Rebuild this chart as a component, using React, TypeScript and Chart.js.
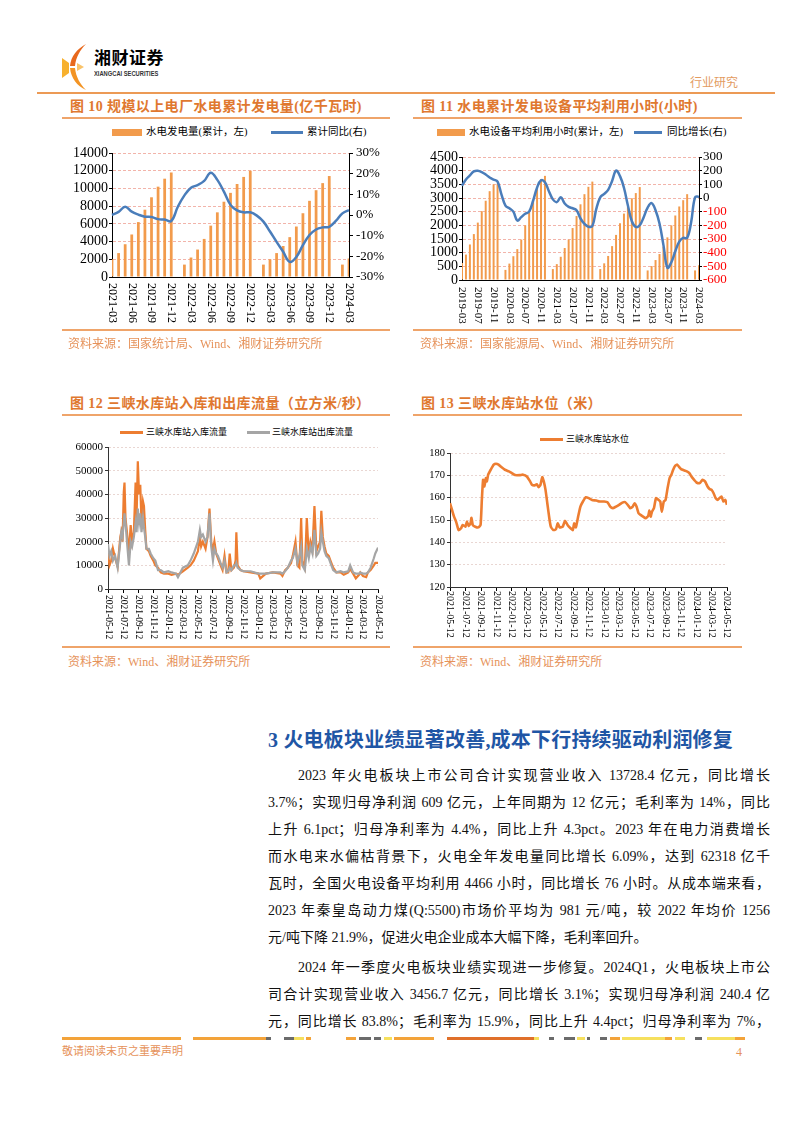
import React, { useEffect, useRef } from 'react';
import { Chart, registerables } from 'chart.js';
Chart.register(...registerables);

// ---------------- Figure 10 data ----------------
function monthRange(start: string, end: string): string[] {
  const [sy, sm] = start.split('-').map(Number);
  const [ey, em] = end.split('-').map(Number);
  const out: string[] = [];
  let y = sy, m = sm;
  while (y < ey || (y === ey && m <= em)) {
    out.push(`${y}-${String(m).padStart(2, '0')}`);
    m++;
    if (m > 12) { m = 1; y++; }
  }
  return out;
}

const c10Months = monthRange('2021-03', '2024-03');
const c10TickLabels = ['2021-03', '2021-06', '2021-09', '2021-12', '2022-03', '2022-06', '2022-09', '2022-12', '2023-03', '2023-06', '2023-09', '2023-12', '2024-03'];
const c10Output = [2000, 2700, 3700, 4800, 6200, 7600, 9000, 10200, 11100, 11800,
  null, 1400, 2200, 3100, 4300, 5800, 7300, 8500, 9500, 10500, 11300, 12000,
  null, 1400, 2000, 2700, 3500, 4500, 5700, 7200, 8600, 9800, 10600, 11400,
  null, 1400, 2100];
const c10Yoy = [0, 1.5, 4, 1.6, 0.2, -0.8, -1, -2, -2.2, -2.9,
  4, 9.5, 13.2, 14.5, 16.5, 20.5, 17, 11.3, 4.9, 2.2, 1.3, 1.3,
  -0.3, -3.2, -8, -13, -17.8, -22.7, -20.3, -14.6, -9.7, -7, -6, -5.7,
  -2.9, 0.8, 2.4];

// ---------------- Figure 11 data ----------------
const c11Months = monthRange('2019-03', '2024-03');
const c11TickLabels = ['2019-03', '2019-07', '2019-11', '2020-03', '2020-07', '2020-11', '2021-03', '2021-07', '2021-11', '2022-03', '2022-07', '2022-11', '2023-03', '2023-07', '2023-11', '2024-03'];
const c11Hours = [620, 930, 1300, 1680, 2100, 2520, 2900, 3250, 3500, 3520,
  null, 370, 600, 870, 1130, 1480, 2000, 2470, 2920, 3320, 3690, 3810,
  null, 400, 580, 850, 1170, 1480, 1900, 2340, 2770, 3140, 3410, 3600,
  null, 400, 610, 880, 1240, 1650, 2080, 2430, 2680, 2990, 3180, 3400,
  null, 350, 510, 730, 950, 1220, 1560, 2000, 2360, 2690, 2920, 3140,
  null, 350, 540];
const c11Yoy = [90, 135, 165, 195, 200, 190, 172, 150, 135, 120,
  25, -55, -75, -100, -165, -140, -115, -100, -20, 75, 130, 115,
  50, -10, -30, 5, -40, -65, -75, -90, -150, -190, -210, -205,
  -80, 5, 30, 60, 125, 200, 160, 75, -55, -170, -212, -200,
  -140, -70, -37, -90, -187, -345, -510, -470, -390, -320, -292, -292,
  -180, 5, 10];

// ---------------- Figure 12 data ----------------
const flowTickLabels = ['2021-05-12', '2021-07-12', '2021-09-12', '2021-11-12', '2022-01-12', '2022-03-12', '2022-05-12', '2022-07-12', '2022-09-12', '2022-11-12', '2023-01-12', '2023-03-12', '2023-05-12', '2023-07-12', '2023-09-12', '2023-11-12', '2024-01-12', '2024-03-12', '2024-05-12'];
const flowDates = ['2021-05-12', '2021-05-18', '2021-05-25', '2021-06-01', '2021-06-10', '2021-06-20', '2021-07-01', '2021-07-05', '2021-07-10', '2021-07-15', '2021-07-18', '2021-07-22', '2021-07-28', '2021-08-05', '2021-08-12', '2021-08-18', '2021-08-25', '2021-09-01', '2021-09-05', '2021-09-10', '2021-09-15', '2021-09-20', '2021-09-25', '2021-10-01', '2021-10-05', '2021-10-10', '2021-10-15', '2021-10-25', '2021-11-01', '2021-11-12', '2021-11-20', '2021-12-01', '2021-12-12', '2021-12-25', '2022-01-12', '2022-01-25', '2022-02-12', '2022-02-20', '2022-03-12', '2022-04-01', '2022-04-12', '2022-04-25', '2022-05-12', '2022-05-20', '2022-05-25', '2022-06-01', '2022-06-12', '2022-06-20', '2022-06-28', '2022-07-05', '2022-07-12', '2022-07-18', '2022-07-25', '2022-08-01', '2022-08-12', '2022-08-20', '2022-08-28', '2022-09-05', '2022-09-12', '2022-09-18', '2022-09-25', '2022-10-05', '2022-10-12', '2022-10-15', '2022-10-20', '2022-11-01', '2022-11-12', '2022-12-12', '2023-01-12', '2023-01-20', '2023-02-12', '2023-03-12', '2023-04-12', '2023-04-20', '2023-05-01', '2023-05-12', '2023-05-25', '2023-06-01', '2023-06-12', '2023-06-20', '2023-06-28', '2023-07-05', '2023-07-10', '2023-07-20', '2023-07-28', '2023-08-05', '2023-08-12', '2023-08-20', '2023-08-28', '2023-09-05', '2023-09-12', '2023-09-20', '2023-09-25', '2023-10-01', '2023-10-08', '2023-10-15', '2023-10-25', '2023-11-01', '2023-11-12', '2023-11-25', '2023-12-12', '2023-12-25', '2024-01-12', '2024-01-20', '2024-02-01', '2024-02-12', '2024-02-25', '2024-03-01', '2024-03-12', '2024-03-25', '2024-04-01', '2024-04-12', '2024-04-25', '2024-05-01', '2024-05-12'];
const inflow = [15000, 10000, 12000, 17000, 13000, 9500, 22000, 24000, 20000, 41000, 45000, 30000, 24000, 15000, 27000, 20000, 24000, 45000, 30000, 54000, 40000, 44000, 28000, 37000, 35000, 25000, 17000, 16000, 14000, 12000, 10000, 9000, 7000, 6500, 6500, 6000, 6500, 6000, 7500, 9000, 10000, 12000, 16000, 22000, 18000, 20000, 17000, 22000, 34000, 20000, 16000, 20000, 15000, 13000, 10000, 8000, 14000, 7000, 7000, 15000, 8000, 9000, 12000, 24000, 10000, 8000, 7500, 7000, 6500, 4500, 6500, 7000, 6500, 5500, 8000, 9000, 11000, 14000, 20000, 10000, 9000, 30000, 12000, 9000, 30000, 14000, 20000, 17000, 35000, 16000, 18000, 20000, 33000, 22000, 18000, 15000, 14000, 12000, 9000, 7000, 7000, 6000, 7000, 8500, 6500, 4500, 6000, 7000, 5500, 5000, 7000, 8000, 10000, 11000, 11000];
const outflow = [19000, 14000, 16000, 12000, 14000, 9000, 20000, 24000, 22000, 28000, 32000, 28000, 20000, 10000, 20000, 18000, 22000, 28000, 24000, 34000, 28000, 32000, 24000, 30000, 26000, 22000, 17000, 17000, 15000, 13000, 12000, 8000, 8000, 7000, 7500, 7000, 6500, 5000, 9000, 10000, 12000, 15000, 20000, 25000, 22000, 23000, 20000, 22000, 32000, 18000, 12000, 17000, 15000, 14000, 11000, 9000, 12000, 7000, 7500, 9000, 8000, 10000, 10000, 11000, 9000, 8000, 7500, 7500, 6500, 6500, 6500, 7000, 7000, 6500, 7500, 9000, 12000, 13000, 17000, 11000, 14000, 18000, 10000, 8000, 17000, 13000, 18000, 15000, 25000, 14000, 15000, 17000, 24000, 20000, 16000, 14000, 13000, 11000, 8000, 7000, 7500, 7000, 7500, 10000, 7000, 6500, 6500, 7000, 6500, 6500, 7000, 9000, 13000, 15000, 17500];

// ---------------- Figure 13 data ----------------
const levelDates = ['2021-05-12', '2021-05-20', '2021-05-28', '2021-06-05', '2021-06-15', '2021-06-25', '2021-07-01', '2021-07-12', '2021-07-18', '2021-07-25', '2021-08-01', '2021-08-05', '2021-08-10', '2021-08-20', '2021-09-01', '2021-09-10', '2021-09-15', '2021-09-20', '2021-09-25', '2021-10-01', '2021-10-05', '2021-10-10', '2021-10-20', '2021-11-01', '2021-11-10', '2021-11-20', '2021-12-01', '2021-12-15', '2021-12-31', '2022-01-12', '2022-01-25', '2022-02-12', '2022-02-25', '2022-03-12', '2022-03-25', '2022-04-01', '2022-04-12', '2022-04-20', '2022-04-28', '2022-05-05', '2022-05-12', '2022-05-18', '2022-05-25', '2022-06-01', '2022-06-10', '2022-06-15', '2022-06-25', '2022-07-05', '2022-07-12', '2022-07-20', '2022-08-01', '2022-08-10', '2022-08-20', '2022-09-01', '2022-09-10', '2022-09-15', '2022-09-22', '2022-10-01', '2022-10-10', '2022-10-20', '2022-11-01', '2022-11-12', '2022-11-25', '2022-12-12', '2022-12-25', '2023-01-12', '2023-01-25', '2023-02-05', '2023-02-15', '2023-02-28', '2023-03-12', '2023-03-25', '2023-04-05', '2023-04-15', '2023-04-25', '2023-05-05', '2023-05-12', '2023-05-20', '2023-05-28', '2023-06-05', '2023-06-15', '2023-06-25', '2023-07-05', '2023-07-10', '2023-07-15', '2023-07-20', '2023-07-28', '2023-08-05', '2023-08-15', '2023-08-22', '2023-08-28', '2023-09-05', '2023-09-12', '2023-09-20', '2023-09-28', '2023-10-05', '2023-10-12', '2023-10-20', '2023-10-28', '2023-11-05', '2023-11-12', '2023-11-25', '2023-12-05', '2023-12-15', '2023-12-25', '2024-01-05', '2024-01-12', '2024-01-25', '2024-02-05', '2024-02-15', '2024-02-25', '2024-03-05', '2024-03-12', '2024-03-20', '2024-03-28', '2024-04-05', '2024-04-12', '2024-04-20', '2024-04-28', '2024-05-05', '2024-05-12'];
const levels = [157.5, 154.5, 151.5, 149.3, 145.5, 146.3, 147.8, 147, 149.3, 147.3, 148.5, 151, 147.8, 147, 146.7, 147.8, 159, 168, 165, 168.8, 167.3, 170.3, 172.5, 174.8, 175.2, 174.8, 173.7, 172.5, 171.8, 171, 170.1, 170.1, 170.3, 169.5, 167.3, 165.8, 165.5, 166, 164.7, 165.8, 169.2, 167.3, 163.5, 157.5, 150, 147, 145.5, 145.8, 148.5, 146.7, 147, 149.6, 147.8, 146.3, 145.5, 148.5, 146.7, 151.5, 156, 158.3, 160.2, 159.8, 159, 158.7, 158.3, 158.3, 158, 156, 155.3, 156, 156.8, 157.8, 158, 156.8, 155.3, 156, 157.5, 156, 153, 152.3, 151.5, 150.8, 151.8, 154.2, 151.5, 153.7, 155.3, 159.8, 159, 158.3, 153.7, 158.3, 159, 164.3, 168.8, 170.3, 172.5, 174.3, 174.8, 173.7, 172.8, 172.2, 171.8, 171, 169.2, 167.7, 166.8, 166.5, 168, 167.3, 165, 163.8, 163.5, 162, 159.8, 159, 159.8, 160.5, 158.3, 159, 156.8];

// ---------------- helpers ----------------
const SERIF = '"Liberation Serif", "Noto Sans CJK SC", serif';
const ORANGE_BAR = '#F29B4C';
const BLUE = '#4A7DBA';
const LINE_ORANGE = '#ED7D31';
const LINE_GREY = '#A5A5A5';

function dayIndex(d: string): number {
  const [y, m, dd] = d.split('-').map(Number);
  return Math.round((Date.UTC(y, m - 1, dd) - Date.UTC(2021, 4, 12)) / 86400000);
}

function rotLabels(items: { v: number; t: string }[], fontPx: number, gap: number) {
  return {
    id: 'rotLabels',
    afterDraw(chart: any) {
      const sx = chart.scales.x;
      const ctx = chart.ctx;
      const b = chart.chartArea.bottom;
      ctx.save();
      ctx.font = `${fontPx}px "Liberation Serif"`;
      ctx.fillStyle = '#000';
      ctx.textAlign = 'left';
      ctx.textBaseline = 'middle';
      items.forEach(({ v, t }) => {
        const px = sx.getPixelForValue(v);
        ctx.save();
        ctx.translate(px, b + gap);
        ctx.rotate(Math.PI / 2);
        ctx.fillText(t, 0, 0);
        ctx.restore();
      });
      ctx.restore();
    },
  };
}

const fixW = (w: number) => (s: any) => { s.width = w; s.paddingTop = 0; s.paddingBottom = 0; };
const fixH = (h: number) => (s: any) => { s.height = h; s.paddingLeft = 0; s.paddingRight = 0; };
const plain = (v: any) => String(v);

function makeC10(cv: HTMLCanvasElement) {
  return new Chart(cv, {
    type: 'bar',
    data: {
      labels: c10Months,
      datasets: [
        { type: 'line', label: '累计同比(右)', data: c10Yoy, yAxisID: 'y1', borderColor: BLUE, borderWidth: 2.5, pointRadius: 0, tension: 0.4, order: 0 } as any,
        { type: 'bar', label: '水电发电量(累计，左)', data: c10Output, yAxisID: 'y', backgroundColor: ORANGE_BAR, barPercentage: 0.42, categoryPercentage: 1, order: 1 },
      ],
    },
    options: {
      animation: false, responsive: false, maintainAspectRatio: false,
      layout: { padding: { top: 8, left: 0, right: 0, bottom: 0 } },
      plugins: { legend: { display: false }, tooltip: { enabled: false } },
      scales: {
        x: { offset: false, grid: { display: false }, border: { color: '#000' }, ticks: { display: false }, afterFit: fixH(53) } as any,
        y: {
          position: 'left', min: 0, max: 14000,
          ticks: { stepSize: 2000, autoSkip: false, callback: plain, color: '#000', padding: 1, font: { family: 'Liberation Serif', size: 14 } },
          grid: { color: (c: any) => (c.tick && c.tick.value === 0 ? 'rgba(0,0,0,0)' : '#F2B4AA'), tickColor: '#000', tickLength: 3 },
          border: { color: '#000', dash: [3, 2] }, afterFit: fixW(50),
        } as any,
        y1: {
          position: 'right', min: -30, max: 30,
          ticks: { stepSize: 10, autoSkip: false, color: '#000', padding: 3, font: { family: 'Liberation Serif', size: 13 }, callback: (v: any) => v + '%' },
          grid: { drawOnChartArea: false, tickColor: '#000', tickLength: 4 },
          border: { color: '#000' }, afterFit: fixW(41),
        } as any,
      },
    },
    plugins: [rotLabels(c10TickLabels.map(t => ({ v: c10Months.indexOf(t), t })), 12, 6)],
  });
}

function makeC11(cv: HTMLCanvasElement) {
  return new Chart(cv, {
    type: 'bar',
    data: {
      labels: c11Months,
      datasets: [
        { type: 'line', label: '同比增长(右)', data: c11Yoy, yAxisID: 'y1', borderColor: BLUE, borderWidth: 2.5, pointRadius: 0, tension: 0.4, order: 0 } as any,
        { type: 'bar', label: '水电设备平均利用小时(累计，左)', data: c11Hours, yAxisID: 'y', backgroundColor: ORANGE_BAR, barPercentage: 0.5, categoryPercentage: 1, order: 1 },
      ],
    },
    options: {
      animation: false, responsive: false, maintainAspectRatio: false,
      layout: { padding: { top: 10, left: 0, right: 0, bottom: 0 } },
      plugins: { legend: { display: false }, tooltip: { enabled: false } },
      scales: {
        x: { offset: false, grid: { display: false }, border: { color: '#000' }, ticks: { display: false }, afterFit: fixH(50) } as any,
        y: {
          position: 'left', min: 0, max: 4500,
          ticks: { stepSize: 500, autoSkip: false, callback: plain, color: '#000', padding: 1, font: { family: 'Liberation Serif', size: 14 } },
          grid: { color: (c: any) => (c.tick && c.tick.value === 0 ? 'rgba(0,0,0,0)' : '#F2B4AA'), tickColor: '#000', tickLength: 3 },
          border: { color: '#000', dash: [3, 2] }, afterFit: fixW(49),
        } as any,
        y1: {
          position: 'right', min: -600, max: 300,
          ticks: { stepSize: 100, autoSkip: false, callback: plain, padding: 1, font: { family: 'Liberation Serif', size: 13 }, color: (c: any) => (c.tick && c.tick.value < 0 ? '#FF0000' : '#000') },
          grid: { drawOnChartArea: false, tickColor: '#000', tickLength: 3 },
          border: { color: '#000' }, afterFit: fixW(43),
        } as any,
      },
    },
    plugins: [rotLabels(c11TickLabels.map(t => ({ v: c11Months.indexOf(t), t })), 11, 7)],
  });
}

function makeC12(cv: HTMLCanvasElement) {
  const tickDays = flowTickLabels.map(dayIndex);
  return new Chart(cv, {
    type: 'line',
    data: {
      datasets: [
        { label: '三峡水库站入库流量', data: flowDates.map((d, i) => ({ x: dayIndex(d), y: inflow[i] })), borderColor: LINE_ORANGE, borderWidth: 2.2, pointRadius: 0, tension: 0, order: 1 },
        { label: '三峡水库站出库流量', data: flowDates.map((d, i) => ({ x: dayIndex(d), y: outflow[i] })), borderColor: LINE_GREY, borderWidth: 2.2, pointRadius: 0, tension: 0, order: 0 },
      ],
    },
    options: {
      animation: false, responsive: false, maintainAspectRatio: false,
      layout: { padding: { top: 9, left: 0, right: 12, bottom: 0 } },
      plugins: { legend: { display: false }, tooltip: { enabled: false } },
      scales: {
        x: {
          type: 'linear', min: 0, max: dayIndex('2024-05-12'),
          afterBuildTicks: (s: any) => { s.ticks = tickDays.map(v => ({ value: v })); },
          grid: { drawOnChartArea: false, tickColor: '#000', tickLength: 4 },
          border: { color: '#333' }, ticks: { display: false }, afterFit: fixH(51),
        } as any,
        y: {
          min: 0, max: 60000,
          ticks: { stepSize: 10000, autoSkip: false, callback: plain, color: '#000', padding: 2, font: { family: 'Liberation Serif', size: 11 } },
          grid: { color: (c: any) => (c.tick && c.tick.value === 0 ? 'rgba(0,0,0,0)' : '#E9D6D2'), tickColor: '#333', tickLength: 3 },
          border: { color: '#333', dash: [2, 2] }, afterFit: fixW(46),
        } as any,
      },
    },
    plugins: [rotLabels(flowTickLabels.map(t => ({ v: dayIndex(t), t })), 9.5, 6)],
  });
}

function makeC13(cv: HTMLCanvasElement) {
  const tickDays = flowTickLabels.map(dayIndex);
  return new Chart(cv, {
    type: 'line',
    data: {
      datasets: [
        { label: '三峡水库站水位', data: levelDates.map((d, i) => ({ x: dayIndex(d), y: levels[i] })), borderColor: LINE_ORANGE, borderWidth: 2.6, pointRadius: 0, tension: 0.15 },
      ],
    },
    options: {
      animation: false, responsive: false, maintainAspectRatio: false,
      layout: { padding: { top: 9, left: 0, right: 15, bottom: 0 } },
      plugins: { legend: { display: false }, tooltip: { enabled: false } },
      scales: {
        x: {
          type: 'linear', min: 0, max: dayIndex('2024-05-12'),
          afterBuildTicks: (s: any) => { s.ticks = tickDays.map(v => ({ value: v })); },
          grid: { drawOnChartArea: false, tickColor: '#000', tickLength: 4 },
          border: { color: '#333' }, ticks: { display: false }, afterFit: fixH(53),
        } as any,
        y: {
          min: 120, max: 180,
          ticks: { stepSize: 10, autoSkip: false, callback: plain, color: '#000', padding: 2, font: { family: 'Liberation Serif', size: 10.5 } },
          grid: { color: (c: any) => (c.tick && c.tick.value === 120 ? 'rgba(0,0,0,0)' : '#E9D6D2'), tickColor: '#333', tickLength: 3 },
          border: { color: '#333', dash: [2, 2] }, afterFit: fixW(37),
        } as any,
      },
    },
    plugins: [rotLabels(flowTickLabels.map(t => ({ v: dayIndex(t), t })), 10, 4)],
  });
}

function ChartBox({ make, left, top, width, height }: { make: (c: HTMLCanvasElement) => Chart; left: number; top: number; width: number; height: number }) {
  const ref = useRef<HTMLCanvasElement>(null);
  useEffect(() => {
    const ch = make(ref.current as HTMLCanvasElement);
    return () => ch.destroy();
  }, []);
  return <canvas ref={ref} width={width} height={height} style={{ position: 'absolute', left, top, width, height }} />;
}

function T({ x, y, children, size = 12, color = '#000', weight = 400, family = SERIF, ls = 0, style = {} }: any) {
  return (
    <div style={{ position: 'absolute', left: x, top: y - size * 0.7, fontSize: size, lineHeight: `${size * 1.4}px`, color, fontWeight: weight, fontFamily: family, letterSpacing: ls, whiteSpace: 'nowrap', ...style }}>
      {children}
    </div>
  );
}

function Rect({ x, y, w, h, c }: any) {
  return <div style={{ position: 'absolute', left: x, top: y, width: w, height: h, background: c }} />;
}

const TITLE_C = '#E0782F';
const SRC_C = '#E6925A';
const RULE_C = '#EFA46A';

const p1Lines = [
  '2023 年火电板块上市公司合计实现营业收入 13728.4 亿元，同比增长',
  '3.7%；实现归母净利润 609 亿元，上年同期为 12 亿元；毛利率为 14%，同比',
  '上升 6.1pct；归母净利率为 4.4%，同比上升 4.3pct。2023 年在电力消费增长',
  '而水电来水偏枯背景下，火电全年发电量同比增长 6.09%，达到 62318 亿千',
  '瓦时，全国火电设备平均利用 4466 小时，同比增长 76 小时。从成本端来看，',
  '2023 年秦皇岛动力煤(Q:5500)市场价平均为 981 元/吨，较 2022 年均价 1256',
  '元/吨下降 21.9%，促进火电企业成本大幅下降，毛利率回升。',
];
const p2Lines = [
  '2024 年一季度火电板块业绩实现进一步修复。2024Q1，火电板块上市公',
  '司合计实现营业收入 3456.7 亿元，同比增长 3.1%；实现归母净利润 240.4 亿',
  '元，同比增长 83.8%；毛利率为 15.9%，同比上升 4.4pct；归母净利率为 7%，',
];

const footerSegs: [number, number, string][] = [
  [62, 181, '#F3A33A'], [193, 266, '#F3A33A'], [266, 271, '#6B6B6B'], [284, 294, '#6B6B6B'], [294, 304, '#F6E05E'], [306, 311, '#F3A33A'],
  [346, 356, '#F3A33A'], [359, 371, '#6B6B6B'], [374, 381, '#6B6B6B'], [384, 392, '#F6E05E'], [394, 434, '#F3A33A'],
  [447, 534, '#E0702A'], [534, 539, '#F6E05E'], [549, 554, '#6B6B6B'], [564, 575, '#6B6B6B'], [577, 585, '#F6E05E'], [587, 590, '#6B6B6B'],
  [600, 607, '#6B6B6B'], [610, 620, '#F3A33A'], [622, 665, '#F6E05E'], [665, 672, '#F3A33A'], [675, 685, '#F6E05E'],
  [695, 702, '#6B6B6B'], [707, 735, '#F6E05E'], [735, 745, '#F3A33A'],
];

function BodyLine({ y, text, indent, justify }: { y: number; text: string; indent: boolean; justify: boolean }) {
  const left = indent ? 298 : 268;
  return (
    <div style={{
      position: 'absolute', left, top: y - 10, width: 770 - left, fontSize: 14, lineHeight: '20px',
      fontFamily: SERIF, color: '#111', textAlign: justify ? 'justify' : 'left', textAlignLast: justify ? 'justify' : 'auto' as any,
    }}>{text}</div>
  );
}

export default function App() {
  const lineY1 = [776, 803, 830, 857, 884, 911, 938];
  const lineY2 = [968, 995, 1022];
  return (
    <div style={{ position: 'absolute', left: 0, top: 0, width: 802, height: 1133, background: '#fff', overflow: 'hidden' }}>
      {/* header logo */}
      <svg style={{ position: 'absolute', left: 62, top: 44 }} width={30} height={46} viewBox="0 0 30 46">
        <path d="M24,0 C15,5 9,12 8,22 L13,22 C14,13 18,6 24,0 Z" fill="#E8681C" />
        <path d="M0,14 L7,19 L7,29 L0,34 Z" fill="#F7B12E" />
        <path d="M8,24 L13,24 C14,33 18,40 24,46 C15,42 9,34 8,24 Z" fill="#F39424" />
        <path d="M15,19 L22,23 L15,27 Z" fill="#F9C36A" />
      </svg>
      <T x={94} y={57} size={17} weight={700} family='"Noto Sans CJK SC", sans-serif' ls={0.5}>湘财证券</T>
      <div style={{ position: 'absolute', left: 94, top: 69, fontSize: 8, lineHeight: '9px', fontWeight: 700, fontFamily: '"Liberation Sans", Arial, sans-serif', color: '#333', whiteSpace: 'nowrap', transform: 'scaleX(0.72)', transformOrigin: 'left top' }}>XIANGCAI SECURITIES</div>
      <T x={690} y={82} size={12} color="#E39B5F" family='"Noto Sans CJK SC", serif' ls={0}>行业研究</T>
      <Rect x={37} y={92} w={738} h={2} c="#EC9A55" />

      {/* Figure 10 */}
      <T x={70} y={107} size={14} weight={700} color={TITLE_C} ls={0.4}>图 10 规模以上电厂水电累计发电量(亿千瓦时)</T>
      <Rect x={62} y={117} w={328} h={2} c={RULE_C} />
      <Rect x={112} y={129} w={30} h={7} c={ORANGE_BAR} />
      <T x={146} y={132} size={10.5}>水电发电量(累计，左)</T>
      <Rect x={271} y={131} w={32} h={2.5} c={BLUE} />
      <T x={307} y={132} size={10.5}>累计同比(右)</T>
      <ChartBox make={makeC10} left={62} top={145} width={328} height={185} />
      <Rect x={62} y={329} w={328} h={2} c={RULE_C} />
      <T x={68} y={344} size={12} color={SRC_C}>资料来源：国家统计局、Wind、湘财证券研究所</T>

      {/* Figure 11 */}
      <T x={421} y={107} size={14} weight={700} color={TITLE_C} ls={0.4}>图 11 水电累计发电设备平均利用小时(小时)</T>
      <Rect x={413} y={117} w={329} h={2} c={RULE_C} />
      <Rect x={437} y={129} w={28} h={7} c={ORANGE_BAR} />
      <T x={469} y={132} size={10.5}>水电设备平均利用小时(累计，左)</T>
      <Rect x={634} y={131} w={28} h={2.5} c={BLUE} />
      <T x={667} y={132} size={10.5}>同比增长(右)</T>
      <ChartBox make={makeC11} left={413} top={147} width={329} height={183} />
      <Rect x={413} y={329} w={329} h={2} c={RULE_C} />
      <T x={420} y={344} size={12} color={SRC_C}>资料来源：国家能源局、Wind、湘财证券研究所</T>

      {/* Figure 12 */}
      <T x={70} y={404} size={14} weight={700} color={TITLE_C} ls={0.4}>图 12 三峡水库站入库和出库流量（立方米/秒）</T>
      <Rect x={62} y={414} w={328} h={2} c={RULE_C} />
      <Rect x={120} y={430.5} w={23} h={3} c={LINE_ORANGE} />
      <T x={146} y={432} size={9} ls={0}>三峡水库站入库流量</T>
      <Rect x={247} y={430.5} w={23} h={3} c={LINE_GREY} />
      <T x={272} y={432} size={9} ls={0}>三峡水库站出库流量</T>
      <ChartBox make={makeC12} left={62} top={438} width={328} height={202} />
      <Rect x={62} y={646} w={328} h={2} c={RULE_C} />
      <T x={68} y={662} size={12} color={SRC_C}>资料来源：Wind、湘财证券研究所</T>

      {/* Figure 13 */}
      <T x={421} y={404} size={14} weight={700} color={TITLE_C} ls={0.4}>图 13 三峡水库站水位（米）</T>
      <Rect x={413} y={414} w={329} h={2} c={RULE_C} />
      <Rect x={540} y={437.5} w={23} h={3} c={LINE_ORANGE} />
      <T x={566} y={439} size={9}>三峡水库站水位</T>
      <ChartBox make={makeC13} left={413} top={444} width={329} height={196} />
      <Rect x={413} y={646} w={329} h={2} c={RULE_C} />
      <T x={420} y={662} size={12} color={SRC_C}>资料来源：Wind、湘财证券研究所</T>

      {/* Section heading */}
      <T x={268} y={740} size={20} weight={700} color="#1F56A5" ls={0.2}>3 火电板块业绩显著改善,成本下行持续驱动利润修复</T>

      {p1Lines.map((t, i) => (
        <BodyLine key={'a' + i} y={lineY1[i]} text={t} indent={i === 0} justify={i !== p1Lines.length - 1} />
      ))}
      {p2Lines.map((t, i) => (
        <BodyLine key={'b' + i} y={lineY2[i]} text={t} indent={i === 0} justify={true} />
      ))}

      {/* footer */}
      {footerSegs.map(([a, b, c], i) => <Rect key={'f' + i} x={a} y={1037} w={b - a} h={3} c={c} />)}
      <T x={62} y={1052} size={11} color={SRC_C}>敬请阅读末页之重要声明</T>
      <T x={736} y={1052} size={12} color={SRC_C}>4</T>
    </div>
  );
}
